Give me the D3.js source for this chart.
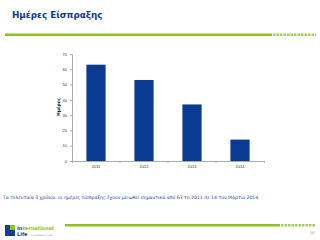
<!DOCTYPE html>
<html>
<head>
<meta charset="utf-8">
<script src="https://cdn.jsdelivr.net/npm/d3@7"></script>
<style>
  body { margin: 0; background: #fff; }
  svg { display: block; font-family: "DejaVu Sans", Verdana, sans-serif; }
</style>
</head>
<body>
<div id="chart"></div>
<script>
// chart values
const years = ['2011', '2012', '2013', '2014'];
const days = [63, 53, 37, 14];
const yTicks = [0, 10, 20, 30, 40, 50, 60, 70];

const W = 320, H = 240;
const blue = '#0b3a93';
const green = '#8cc21e';

const svg = d3.select('#chart').append('svg')
  .attr('width', W)
  .attr('height', H);

// title
svg.append('text')
  .attr('x', 12)
  .attr('y', 17.5)
  .attr('fill', blue)
  .style('font-size', '8.8px')
  .style('font-weight', 'bold')
  .text('Ημέρες Είσπραξης');

// green rule with dashed tail
function rule(x0, x1, xEnd, y) {
  svg.append('rect')
    .attr('x', x0).attr('y', y).attr('width', x1 - x0).attr('height', 2.5)
    .attr('fill', green);
  svg.append('line')
    .attr('x1', x1 + 1).attr('x2', xEnd).attr('y1', y + 1.25).attr('y2', y + 1.25)
    .attr('stroke', '#a4cc58').attr('stroke-width', 2.5)
    .attr('stroke-dasharray', '2.5,1');
}
rule(5, 272, 316, 33.5);
rule(65, 280, 316, 224);

// plot area
const x = d3.scaleBand().domain(years).range([72, 264]).paddingInner(0.6).paddingOuter(0.3);
const y = d3.scaleLinear().domain([0, 70]).range([161, 54]);

const chart = svg.append('g');

const yAxis = chart.append('g')
  .attr('transform', 'translate(72,0)')
  .call(d3.axisLeft(y).tickValues(yTicks).tickSize(2).tickPadding(3));
yAxis.select('.domain').attr('stroke', '#aaa');
yAxis.selectAll('.tick line').attr('stroke', '#aaa');
yAxis.selectAll('text').attr('fill', '#333').style('font-size', '4px');

const xAxis = chart.append('g')
  .attr('transform', 'translate(0,161)')
  .call(d3.axisBottom(x).tickSizeInner(0).tickSizeOuter(2).tickPadding(4));
xAxis.select('.domain').attr('stroke', '#aaa');
xAxis.selectAll('text').attr('fill', '#333').style('font-size', '4px');

// separators between categories
chart.selectAll('.sep')
  .data(years.slice(1))
  .join('line')
  .attr('class', 'sep')
  .attr('x1', d => x(d) - x.step() * x.paddingInner() / 2)
  .attr('x2', d => x(d) - x.step() * x.paddingInner() / 2)
  .attr('y1', 161).attr('y2', 163)
  .attr('stroke', '#aaa');

chart.selectAll('.bar')
  .data(days)
  .join('rect')
  .attr('class', 'bar')
  .attr('x', (d, i) => x(years[i]))
  .attr('y', d => y(d))
  .attr('width', x.bandwidth())
  .attr('height', d => y(0) - y(d))
  .attr('fill', blue);

chart.append('text')
  .attr('transform', 'translate(60,107) rotate(-90)')
  .attr('text-anchor', 'middle')
  .attr('fill', '#222')
  .style('font-size', '4.5px')
  .style('font-weight', 'bold')
  .text('Ημέρες');

// comment line
svg.append('text')
  .attr('x', 3)
  .attr('y', 199)
  .attr('fill', '#1d3f9c')
  .style('font-size', '4.6px')
  .text('Τα τελευταία 3 χρόνια, οι ημέρες είσπραξης έχουν μειωθεί σημαντικά από 63 το 2011 σε 14 τον Μάρτιο 2014.');

// logo
const logo = svg.append('g');
logo.append('rect').attr('x', 5).attr('y', 225).attr('width', 10).attr('height', 11).attr('fill', '#1a3e8f');
logo.append('rect').attr('x', 10).attr('y', 225).attr('width', 5).attr('height', 5).attr('fill', '#8cc21e');
logo.append('text').attr('x', 17).attr('y', 229.5)
  .style('font-size', '5px').style('font-weight', 'bold')
  .html('<tspan fill="#1a3e8f">In</tspan><tspan fill="#8cc21e">ternational</tspan>');
logo.append('text').attr('x', 17).attr('y', 235.5)
  .attr('fill', '#1a3e8f')
  .style('font-size', '5px').style('font-weight', 'bold')
  .text('Life');
logo.append('text').attr('x', 31).attr('y', 235.5)
  .attr('fill', '#888')
  .style('font-size', '2.2px')
  .text('For wellbeing in life');

svg.append('text')
  .attr('x', 312)
  .attr('y', 234)
  .attr('text-anchor', 'middle')
  .attr('fill', '#888')
  .style('font-size', '3.5px')
  .text('10');
</script>
</body>
</html>
